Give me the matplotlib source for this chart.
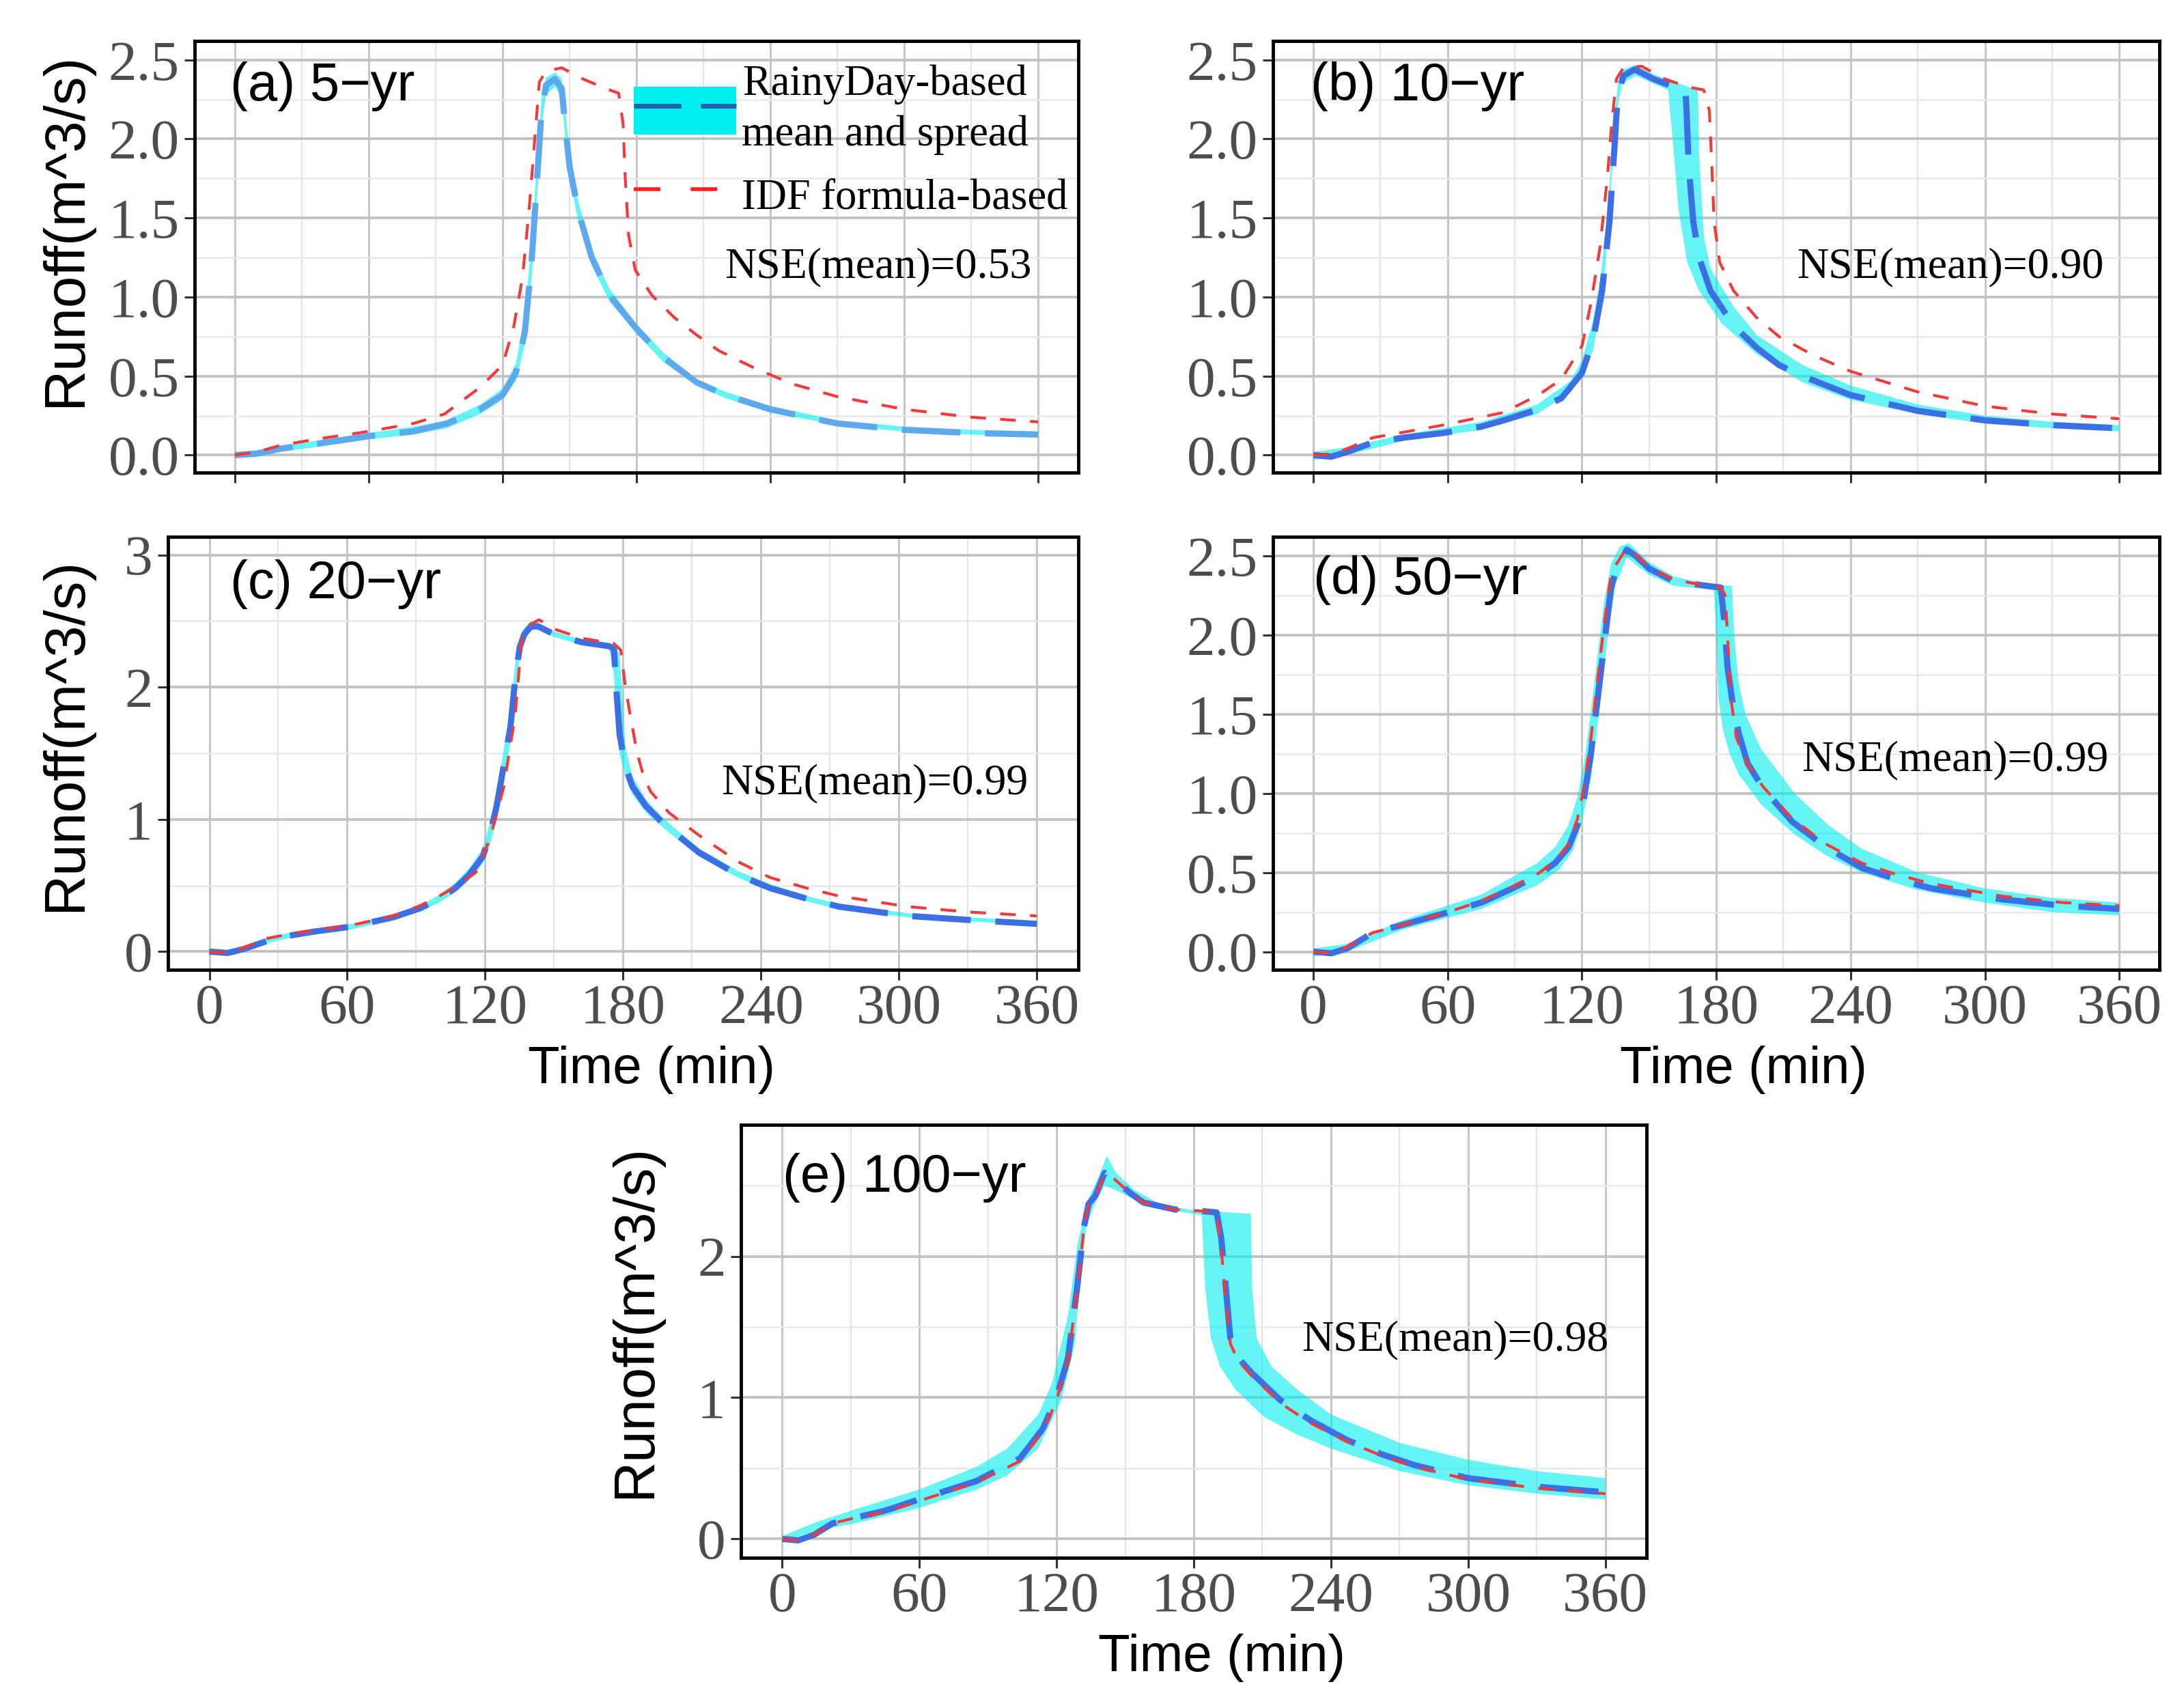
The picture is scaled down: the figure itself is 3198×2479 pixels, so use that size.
import numpy as np
import matplotlib
matplotlib.use("Agg")
import matplotlib.pyplot as plt
from matplotlib.patches import Patch
from matplotlib.lines import Line2D

SANS = "Liberation Sans"
SERIF = "Liberation Serif"

# ---------------- data ----------------
# (a) 5-yr
a_t_mean = [0, 10, 20, 36, 60, 80, 95, 110, 120, 126, 130, 133, 135.5, 137.5, 139.5, 143.5, 146.5,
            148, 150, 154, 160, 168, 180, 192, 207, 220, 240, 270, 300, 330, 360]
a_mean = [0, 0.01, 0.04, 0.07, 0.12, 0.15, 0.20, 0.29, 0.38, 0.52, 0.78, 1.22, 1.75, 2.18, 2.34, 2.38, 2.32,
          2.10, 1.83, 1.54, 1.25, 1.01, 0.80, 0.62, 0.46, 0.38, 0.29, 0.20, 0.16, 0.14, 0.13]
a_t_lo = a_t_mean
a_lo = [-0.02, -0.01, 0.02, 0.05, 0.10, 0.13, 0.17, 0.26, 0.35, 0.47, 0.70, 1.10, 1.62, 2.08, 2.28, 2.33, 2.26,
        2.02, 1.75, 1.48, 1.20, 0.97, 0.77, 0.59, 0.44, 0.36, 0.27, 0.19, 0.15, 0.13, 0.12]
a_t_hi = a_t_mean
a_hi = [0.02, 0.03, 0.06, 0.09, 0.14, 0.18, 0.22, 0.32, 0.42, 0.58, 0.88, 1.35, 1.88, 2.26, 2.39, 2.42, 2.38,
        2.20, 1.92, 1.60, 1.30, 1.05, 0.83, 0.65, 0.48, 0.40, 0.31, 0.22, 0.18, 0.16, 0.15]
a_t_idf = [0, 10, 20, 36, 60, 80, 94, 110, 120, 125, 129, 132, 134.5, 136.5, 139.5, 146.5, 156, 166, 172,
           174, 175, 176.5, 179.5, 187, 197, 207, 217, 233, 250, 270, 300, 330, 360]
a_idf = [0, 0.02, 0.06, 0.10, 0.15, 0.20, 0.26, 0.43, 0.57, 0.81, 1.13, 1.57, 2.01, 2.36, 2.43, 2.45, 2.38, 2.32, 2.29,
         2.10, 1.75, 1.39, 1.17, 1.01, 0.87, 0.76, 0.66, 0.55, 0.45, 0.37, 0.29, 0.24, 0.21]

# (b) 10-yr
b_t_mean = [0, 8, 15, 26.5, 40, 58, 75, 85, 100.5, 110.8, 120, 125, 129, 132.3, 134.4, 135.9, 138.5, 143.6,
            151.8, 161, 166.2, 166.7, 167.7, 169.7, 172.3, 177.4, 187.7, 198, 208, 218.5, 240, 270, 300, 330, 360]
b_mean = [0, -0.01, 0.02, 0.08, 0.11, 0.14, 0.18, 0.22, 0.29, 0.36, 0.52, 0.73, 1.04, 1.48, 1.92, 2.27, 2.40, 2.44,
          2.38, 2.33, 2.32, 2.18, 1.83, 1.48, 1.25, 1.04, 0.82, 0.68, 0.57, 0.50, 0.38, 0.28, 0.22, 0.19, 0.17]
b_t_lo = [0, 15, 40, 75, 100, 115, 125, 130, 133, 135.5, 138, 144, 152, 158.5, 161, 163, 167, 172.3, 182.6,
          198, 218.5, 240, 270, 300, 330, 360]
b_lo = [-0.03, 0.0, 0.09, 0.16, 0.26, 0.40, 0.66, 1.10, 1.70, 2.18, 2.35, 2.40, 2.35, 2.31, 1.92, 1.57, 1.22, 1.04,
        0.83, 0.64, 0.46, 0.35, 0.26, 0.20, 0.17, 0.15]
b_t_hi = [0, 15, 40, 75, 100, 115, 120, 125, 129, 132, 134, 136, 138.5, 144, 152, 161, 171.8, 172.3, 174.4,
          177.4, 187.7, 198, 218.5, 240, 270, 300, 330, 360]
b_hi = [0.02, 0.05, 0.13, 0.21, 0.32, 0.47, 0.60, 0.85, 1.20, 1.65, 2.05, 2.35, 2.44, 2.47, 2.41, 2.36, 2.31, 1.92,
        1.39, 1.18, 0.94, 0.76, 0.57, 0.44, 0.32, 0.25, 0.21, 0.19]
b_t_idf = [0, 10, 26.5, 58, 85, 100.5, 110.8, 120, 124, 128, 131.3, 133.3, 135.4, 138.5, 146.7, 156.9, 167.2,
           174.4, 176.9, 178, 179, 181.5, 187.7, 198, 208, 223.6, 240, 270, 300, 330, 360]
b_idf = [0, 0.01, 0.11, 0.19, 0.27, 0.38, 0.48, 0.69, 0.96, 1.31, 1.75, 2.10, 2.38, 2.45, 2.46, 2.38, 2.33,
         2.31, 2.18, 1.83, 1.48, 1.22, 1.04, 0.87, 0.75, 0.63, 0.53, 0.40, 0.31, 0.26, 0.23]

# (c) 20-yr
c_t_mean = [0, 8, 15, 25, 31, 45, 62, 80, 92, 100, 107, 113, 119, 122, 125, 128, 131, 133, 135, 137, 140, 143,
            150, 162, 174, 176, 177, 178.5, 181, 184, 190, 198, 213, 230, 244, 260, 274, 304, 330, 360]
c_mean = [0, -0.01, 0.02, 0.08, 0.11, 0.15, 0.19, 0.26, 0.33, 0.40, 0.48, 0.58, 0.72, 0.88, 1.10, 1.40, 1.70, 2.05,
          2.30, 2.40, 2.46, 2.46, 2.40, 2.34, 2.31, 2.29, 2.00, 1.64, 1.40, 1.25, 1.10, 0.96, 0.75, 0.58, 0.48,
          0.40, 0.34, 0.27, 0.24, 0.21]
c_t_lo = c_t_mean
c_lo = [-0.02, -0.03, 0.0, 0.06, 0.09, 0.13, 0.17, 0.24, 0.31, 0.37, 0.45, 0.54, 0.67, 0.80, 1.00, 1.28, 1.58, 1.92,
        2.22, 2.36, 2.43, 2.44, 2.38, 2.32, 2.29, 2.10, 1.75, 1.50, 1.32, 1.19, 1.05, 0.93, 0.72, 0.56, 0.46,
        0.38, 0.32, 0.26, 0.23, 0.20]
c_t_hi = c_t_mean
c_hi = [0.02, 0.01, 0.04, 0.10, 0.13, 0.17, 0.21, 0.28, 0.35, 0.43, 0.52, 0.63, 0.78, 0.97, 1.22, 1.52, 1.84, 2.18,
        2.37, 2.45, 2.50, 2.49, 2.42, 2.36, 2.33, 2.32, 2.30, 2.25, 1.55, 1.33, 1.15, 1.00, 0.78, 0.61, 0.51,
        0.42, 0.36, 0.29, 0.26, 0.23]
c_t_idf = [0, 8, 15, 25, 31, 45, 62, 80, 92, 100, 108, 116, 122, 128, 133, 136, 139, 143.5, 150, 162, 176, 179,
           181, 183, 186, 189, 192, 200, 213, 230, 244, 260, 274, 304, 330, 360]
c_idf = [0, -0.01, 0.03, 0.10, 0.12, 0.16, 0.20, 0.27, 0.35, 0.42, 0.50, 0.60, 0.85, 1.24, 1.78, 2.38, 2.47, 2.51,
         2.44, 2.37, 2.33, 2.28, 2.00, 1.80, 1.51, 1.32, 1.21, 1.05, 0.88, 0.68, 0.56, 0.48, 0.42, 0.34, 0.30, 0.27]

# (d) 50-yr
d_t_mean = [0, 8, 15, 26.5, 40, 58, 75, 89, 100, 108, 114, 118, 121, 124, 127, 130, 133, 135, 140, 144, 150,
            161, 176, 182, 183.5, 185, 187, 190, 194, 201, 214, 229, 245, 260, 276, 308, 335, 360]
d_mean = [0, -0.01, 0.02, 0.12, 0.17, 0.24, 0.31, 0.40, 0.48, 0.56, 0.66, 0.80, 0.98, 1.25, 1.60, 1.95, 2.30, 2.40,
          2.54, 2.50, 2.42, 2.34, 2.31, 2.30, 2.10, 1.80, 1.60, 1.38, 1.19, 1.03, 0.82, 0.66, 0.53, 0.46, 0.40,
          0.33, 0.29, 0.27]
d_t_lo = [0, 15, 40, 75, 100, 110, 116, 120, 124, 128, 132, 135, 140, 150, 161, 176, 179, 180, 181, 183, 186,
          190, 200, 215, 230, 245, 270, 300, 330, 360]
d_lo = [-0.03, 0.0, 0.14, 0.27, 0.42, 0.52, 0.64, 0.82, 1.10, 1.55, 2.05, 2.32, 2.49, 2.38, 2.31, 2.29, 2.28, 2.00,
        1.60, 1.40, 1.25, 1.12, 0.93, 0.74, 0.60, 0.50, 0.39, 0.31, 0.25, 0.23]
d_t_hi = [0, 15, 40, 75, 100, 108, 114, 118, 121, 124, 127, 130, 133, 137, 141, 150, 161, 176, 187, 188, 190,
          193, 200, 215, 230, 245, 270, 300, 330, 360]
d_hi = [0.02, 0.05, 0.20, 0.36, 0.56, 0.66, 0.80, 0.98, 1.20, 1.52, 1.88, 2.22, 2.45, 2.56, 2.58, 2.46, 2.37, 2.32,
        2.31, 2.00, 1.70, 1.50, 1.28, 1.00, 0.80, 0.65, 0.50, 0.40, 0.34, 0.31]
d_t_idf = [0, 8, 15, 26.5, 40, 58, 75, 89, 100, 108, 114, 118, 121, 124, 127, 130, 133, 135, 140, 144, 150,
           161, 176, 182, 184, 185, 186.5, 189, 194, 201, 214, 229, 245, 260, 276, 308, 335, 360]
d_idf = [0, -0.01, 0.03, 0.12, 0.17, 0.24, 0.32, 0.41, 0.49, 0.57, 0.68, 0.84, 1.05, 1.35, 1.72, 2.08, 2.38, 2.44,
         2.55, 2.51, 2.43, 2.35, 2.31, 2.30, 2.25, 2.00, 1.60, 1.35, 1.18, 1.04, 0.84, 0.68, 0.56, 0.49, 0.43,
         0.35, 0.31, 0.29]

# (e) 100-yr
e_t_mean = [0, 7, 14, 22, 32, 45, 60, 85, 104, 114, 120, 125, 129, 132, 134, 137, 141, 145, 152, 158, 172,
            183.5, 190, 192, 194, 196, 199.5, 205, 218, 231, 247, 262, 277, 300, 330, 360]
e_mean = [0, -0.01, 0.03, 0.11, 0.15, 0.20, 0.28, 0.41, 0.57, 0.78, 1.00, 1.28, 1.78, 2.21, 2.37, 2.43, 2.59, 2.55,
          2.45, 2.38, 2.33, 2.32, 2.31, 2.13, 1.78, 1.42, 1.28, 1.18, 0.98, 0.84, 0.70, 0.60, 0.52, 0.43, 0.37, 0.33]
e_t_lo = [0, 15, 32, 60, 85, 98.5, 112, 122, 128, 130, 133, 137, 141, 147, 160, 180, 183.5, 185, 187.5, 191.5,
          198, 211, 225, 240, 270, 300, 330, 360]
e_lo = [-0.02, 0.06, 0.11, 0.22, 0.35, 0.45, 0.64, 0.98, 1.38, 1.78, 2.21, 2.38, 2.50, 2.46, 2.35, 2.30, 2.29, 1.78,
        1.42, 1.22, 1.06, 0.86, 0.74, 0.64, 0.48, 0.38, 0.32, 0.28]
e_t_hi = [0, 15, 32, 60, 85, 98.5, 112, 118, 125, 129, 133, 138.5, 142, 146, 154, 165, 178, 205, 205.5, 207.5,
          214, 225, 240, 270, 300, 330, 360]
e_hi = [0.02, 0.12, 0.21, 0.35, 0.51, 0.64, 0.88, 1.10, 1.58, 2.07, 2.37, 2.57, 2.71, 2.59, 2.47, 2.37, 2.33, 2.30,
        1.78, 1.42, 1.22, 1.06, 0.88, 0.68, 0.56, 0.48, 0.43]
e_t_idf = e_t_mean
e_idf = [0, -0.01, 0.03, 0.11, 0.15, 0.19, 0.27, 0.40, 0.55, 0.76, 0.98, 1.26, 1.76, 2.20, 2.36, 2.43, 2.58, 2.55,
         2.45, 2.38, 2.33, 2.32, 2.31, 2.05, 1.70, 1.38, 1.26, 1.16, 0.96, 0.82, 0.69, 0.59, 0.51, 0.42, 0.36, 0.32]

panel_titles = ["(a) 5\u2212yr", "(b) 10\u2212yr", "(c) 20\u2212yr", "(d) 50\u2212yr", "(e) 100\u2212yr"]
nse_values = ["0.53", "0.90", "0.99", "0.99", "0.98"]
x_ticks = [0, 60, 120, 180, 240, 300, 360]
x_minor = [30, 90, 150, 210, 270, 330]
y_ticks_half = [0.0, 0.5, 1.0, 1.5, 2.0, 2.5]
y_ticks_int3 = [0, 1, 2, 3]
y_ticks_int2 = [0, 1, 2]

# ---------------- style ----------------
RIBBON = "#00eeee"
BLUE = "#3c6fe4"
BLUE_A = "#5ea9ee"
RED = "#f23a3a"
TICK_FS = 60

panels = [
    dict(data=(a_t_mean, a_mean, a_t_lo, a_lo, a_t_hi, a_hi, a_t_idf, a_idf),
         pos=[0.0891, 0.7209, 0.4046, 0.2549], ylim=(-0.11, 2.62), yt=y_ticks_half, fmt="{:.1f}",
         xlab=False, ylab=True, ylc=(-0.146, 0.562), tpos=(0.040, 0.895), npos=(0.947, 0.475), blue=BLUE_A),
    dict(data=(b_t_mean, b_mean, b_t_lo, b_lo, b_t_hi, b_hi, b_t_idf, b_idf),
         pos=[0.5829, 0.7209, 0.4059, 0.2549], ylim=(-0.11, 2.62), yt=y_ticks_half, fmt="{:.1f}",
         xlab=False, ylab=False, tpos=(0.042, 0.895), npos=(0.937, 0.475), blue=BLUE),
    dict(data=(c_t_mean, c_mean, c_t_lo, c_lo, c_t_hi, c_hi, c_t_idf, c_idf),
         pos=[0.0769, 0.4272, 0.4168, 0.2557], ylim=(-0.137, 3.137), yt=y_ticks_int3, fmt="{:d}",
         xlab=True, ylab=True, ylc=(-0.1125, 0.544), tpos=(0.068, 0.891), npos=(0.945, 0.43), blue=BLUE),
    dict(data=(d_t_mean, d_mean, d_t_lo, d_lo, d_t_hi, d_hi, d_t_idf, d_idf),
         pos=[0.5829, 0.4272, 0.4059, 0.2557], ylim=(-0.114, 2.62), yt=y_ticks_half, fmt="{:.1f}",
         xlab=True, ylab=False, tpos=(0.045, 0.90), npos=(0.942, 0.483), blue=BLUE),
    dict(data=(e_t_mean, e_mean, e_t_lo, e_lo, e_t_hi, e_hi, e_t_idf, e_idf),
         pos=[0.3393, 0.0799, 0.4146, 0.2557], ylim=(-0.133, 2.93), yt=y_ticks_int2, fmt="{:d}",
         xlab=True, ylab=True, ylc=(-0.117, 0.547), tpos=(0.046, 0.878), npos=(0.958, 0.503), blue=BLUE),
]

fig = plt.figure(figsize=(31.98, 24.79), dpi=100)

for i, p in enumerate(panels):
    tm, m, tlo, lo, thi, hi, tidf, idf = p["data"]
    ax = fig.add_axes(p["pos"])

    # spread ribbon as polygon (upper edge forward, lower edge back)
    ax.fill(np.concatenate([thi, tlo[::-1]]), np.concatenate([hi, lo[::-1]]),
            color=RIBBON, alpha=0.6, lw=0, zorder=2)
    ax.plot(tm, m, color=p["blue"], lw=6.5, dashes=(9.5, 4), dash_capstyle="butt", zorder=3)
    ax.plot(tidf, idf, color=RED, lw=3, dashes=(5.5, 5), dash_capstyle="butt", zorder=4)

    ax.set_xlim(-18, 378)
    ax.set_xticks(x_ticks)
    ax.set_xticks(x_minor, minor=True)
    yt = p["yt"]
    ax.set_yticks(yt, [p["fmt"].format(v) for v in yt])
    ax.set_yticks([v + (yt[1] - yt[0]) / 2 for v in yt], minor=True)
    ax.set_ylim(*p["ylim"])

    ax.set_axisbelow(True)
    ax.xaxis.grid(True, which="major", color="#c2c2c2", lw=2.0)
    ax.xaxis.grid(True, which="minor", color="#e4e4e4", lw=1.6)
    ax.yaxis.grid(True, which="major", color="#c2c2c2", lw=2.8)
    ax.yaxis.grid(True, which="minor", color="#e9e9e9", lw=1.8)

    for s in ax.spines.values():
        s.set_linewidth(3.5)
        s.set_color("black")

    ax.tick_params(which="major", length=11, width=2.2, color="#333333",
                   labelcolor="#4d4d4d", labelsize=TICK_FS, pad=5)
    ax.tick_params(which="minor", length=0)
    ax.tick_params(axis="x", pad=4)
    for lab in ax.get_xticklabels() + ax.get_yticklabels():
        lab.set_fontfamily(SERIF)
    if not p["xlab"]:
        ax.tick_params(axis="x", labelbottom=False)
    else:
        ax.set_xlabel("Time (min)", fontsize=55, fontfamily=SANS)
        ax.xaxis.label.set_va("baseline")
        ax.xaxis.set_label_coords(0.531, -0.262)
    if p["ylab"]:
        ax.set_ylabel("Runoff(m^3/s)", fontsize=60, fontfamily=SANS)
        ax.yaxis.label.set_va("center")
        ax.yaxis.set_label_coords(*p["ylc"])

    ax.text(*p["tpos"], panel_titles[i], transform=ax.transAxes, fontsize=56,
            fontfamily=SANS, ha="left", va="center")
    ax.text(*p["npos"], "NSE(mean)=" + nse_values[i], transform=ax.transAxes,
            fontsize=46, fontfamily=SERIF, ha="right", va="center")

    if i == 0:
        h_rd = (Patch(facecolor="#00f0f0", edgecolor="none"),
                Line2D([], [], color="#1f62ad", lw=5, dashes=(10, 4.1)))
        h_idf = Line2D([], [], color="#ff1f1f", lw=4, dashes=(7, 8))
        leg = ax.legend([h_rd, h_idf], ["RainyDay-based\nmean and spread", "IDF formula-based"],
                        loc="upper right", bbox_to_anchor=(0.988, 0.945), frameon=False,
                        prop={"family": SERIF, "size": 45}, handlelength=2.4, handleheight=1.35,
                        handletextpad=0.12, labelspacing=0.35, borderpad=0, borderaxespad=0)
        t0 = leg.get_texts()[0]
        t0.set_multialignment("center")
        t0.set_linespacing(1.35)

fig.savefig("out.png", dpi=100)
